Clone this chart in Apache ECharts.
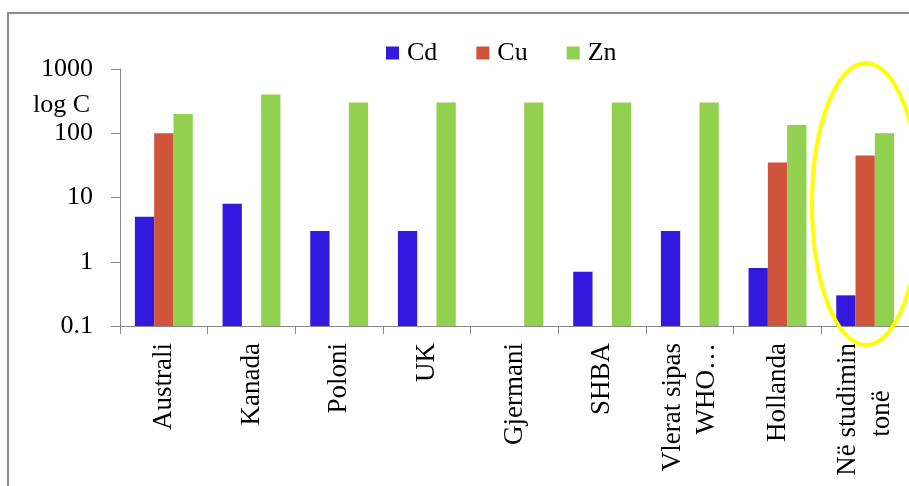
<!DOCTYPE html>
<html>
<head>
<meta charset="utf-8">
<script src="https://cdn.jsdelivr.net/npm/echarts@6/dist/echarts.min.js"></script>
<style>
html,body{margin:0;padding:0;background:#fff;}
#chart{width:909px;height:486px;}
</style>
</head>
<body>
<div id="chart"></div>
<script>
var categories = ['Australi', 'Kanada', 'Poloni', 'UK', 'Gjermani', 'SHBA', 'Vlerat sipas\nWHO…', 'Hollanda', 'Në studimin\ntonë'];
var cdValues = [5, 8, 3, 3, null, 0.7, 3, 0.8, 0.3];
var cuValues = [100, null, null, null, null, null, null, 35, 45];
var znValues = [200, 400, 300, 300, 300, 300, 300, 135, 100];
var yTicks = [0.1, 1, 10, 100, 1000];
var AXIS_MIN = 0.1;

var FONT = '"Liberation Serif", "Times New Roman", serif';

// log axis bars grow from 1 by default; stack each visible bar on a transparent
// base of AXIS_MIN so it grows from the bottom of the axis.
function baseOf(arr) { return arr.map(function (v) { return v == null ? null : AXIS_MIN; }); }
function restOf(arr) { return arr.map(function (v) { return v == null ? null : v - AXIS_MIN; }); }

var seriesDefs = [
  { name: 'Cd', data: cdValues, color: '#3319DE' },
  { name: 'Cu', data: cuValues, color: '#D0533C' },
  { name: 'Zn', data: znValues, color: '#92D050' }
];
var series = [];
seriesDefs.forEach(function (s) {
  series.push({
    name: s.name + '_base', type: 'bar', stack: s.name, data: baseOf(s.data),
    barGap: 0, barCategoryGap: '34%', silent: true,
    itemStyle: { color: 'rgba(0,0,0,0)' }
  });
  series.push({
    name: s.name, type: 'bar', stack: s.name, data: restOf(s.data),
    barGap: 0, barCategoryGap: '34%',
    itemStyle: { color: s.color }
  });
});

var chart = echarts.init(document.getElementById('chart'));
chart.setOption({
  animation: false,
  backgroundColor: '#ffffff',
  legend: {
    left: 381,
    top: 35,
    itemWidth: 13,
    itemHeight: 13,
    itemGap: 39,
    icon: 'rect',
    textStyle: { fontFamily: FONT, fontSize: 26, color: '#000', padding: [0, 0, 0, 3] },
    data: ['Cd', 'Cu', 'Zn']
  },
  grid: { left: 120, top: 69, right: -1, bottom: 160, containLabel: false },
  xAxis: {
    type: 'category',
    data: categories,
    axisLine: { lineStyle: { color: '#888', width: 1 } },
    axisTick: { show: true, length: 8, lineStyle: { color: '#888' } },
    axisLabel: {
      interval: 0, rotate: 90, margin: 17,
      fontFamily: FONT, fontSize: 27, color: '#000', lineHeight: 34,
      formatter: function (v) {
        var lines = v.split('\n');
        // the last label's short second line sits centred under the first line
        if (lines.length > 1 && lines[1].slice(-1) !== '…') {
          lines[1] = lines[1] + '\u00a0\u00a0\u00a0\u00a0\u00a0\u00a0\u00a0';
        }
        return lines.join('\n');
      }
    },
    splitLine: { show: false }
  },
  yAxis: {
    type: 'log',
    logBase: 10,
    min: AXIS_MIN,
    max: 1000,
    name: 'log C',
    nameLocation: 'end',
    nameGap: -36,
    nameTextStyle: {
      fontFamily: FONT, fontSize: 26, color: '#000',
      align: 'right', verticalAlign: 'middle', padding: [0, 30, 0, 0]
    },
    axisLine: { show: true, lineStyle: { color: '#888', width: 1 } },
    axisTick: { show: true, length: 9, lineStyle: { color: '#888' } },
    axisLabel: {
      margin: 27, fontFamily: FONT, fontSize: 26, color: '#000',
      formatter: function (v) {
        var t = yTicks.find(function (x) { return Math.abs(x - v) / x < 1e-6; });
        return t !== undefined ? String(t) : '';
      }
    },
    splitLine: { show: false }
  },
  series: series,
  graphic: [
    {
      type: 'rect', z: 100, silent: true,
      shape: { x: 8, y: 13, width: 1200, height: 1200 },
      style: { fill: null, stroke: '#8c8c8c', lineWidth: 2 }
    },
    {
      type: 'ellipse', z: 100, silent: true,
      shape: { cx: 866, cy: 204, rx: 54, ry: 141 },
      style: { fill: null, stroke: '#FFFF00', lineWidth: 4 }
    }
  ]
});
</script>
</body>
</html>
